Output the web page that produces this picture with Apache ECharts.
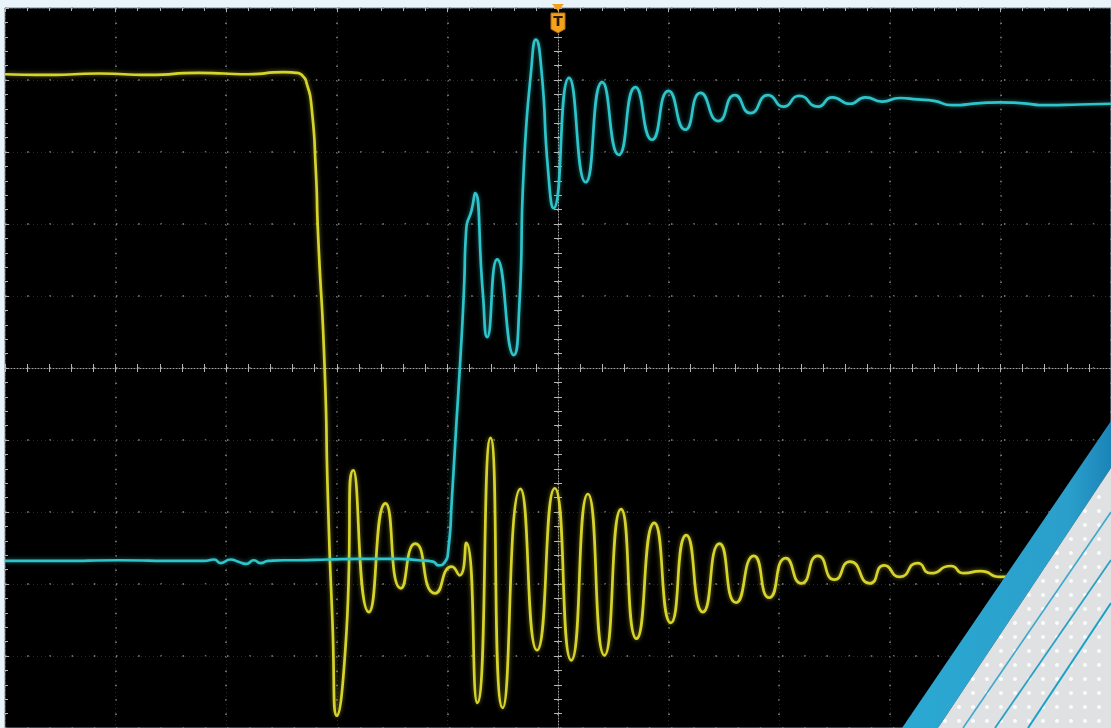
<!DOCTYPE html>
<html>
<head>
<meta charset="utf-8">
<title>scope capture</title>
<style>
  html, body { margin: 0; padding: 0; background: #e9f4fa; }
  #main { width: 1111px; height: 728px; }
</style>
</head>
<body>
<div id="main"></div>
<script src="https://cdn.jsdelivr.net/npm/echarts@6/dist/echarts.min.js"></script>
<script>
// time and level both in screen divisions (10 x 10 grid, trigger at t = 0)
var ch1Time = [-5.00, -4.60, -4.15, -3.70, -3.25, -2.80, -2.48, -2.37, -2.31, -2.27, -2.23, -2.19, -2.17, -2.11, -2.08, -2.04, -2.00, -1.92, -1.85, -1.71, -1.56, -1.42, -1.29, -1.11, -0.96, -0.89, -0.83, -0.73, -0.61, -0.50, -0.34, -0.19, -0.03, 0.12, 0.27, 0.42, 0.57, 0.71, 0.87, 1.02, 1.16, 1.31, 1.46, 1.61, 1.77, 1.91, 2.06, 2.20, 2.35, 2.50, 2.64, 2.82, 2.95, 3.09, 3.25, 3.37, 3.55, 3.67, 3.82, 4.00, 4.20];
var ch1Level = [4.08, 4.07, 4.09, 4.07, 4.10, 4.08, 4.11, 4.10, 4.06, 3.94, 3.65, 2.75, 1.88, 0.00, -1.83, -3.50, -4.83, -3.85, -1.42, -3.39, -1.88, -3.06, -2.44, -3.13, -2.76, -2.88, -2.43, -4.65, -0.97, -4.72, -1.68, -3.92, -1.67, -4.06, -1.75, -3.99, -1.96, -3.76, -2.15, -3.54, -2.32, -3.39, -2.44, -3.26, -2.61, -3.19, -2.64, -2.99, -2.61, -2.94, -2.69, -2.99, -2.74, -2.90, -2.71, -2.85, -2.75, -2.85, -2.82, -2.90, -2.86];

var ch2Time = [-5.00, -4.51, -3.97, -3.43, -3.20, -3.11, -3.05, -2.96, -2.89, -2.82, -2.75, -2.69, -2.62, -2.48, -2.35, -2.08, -1.81, -1.44, -1.26, -1.13, -1.08, -1.03, -0.99, -0.96, -0.92, -0.88, -0.85, -0.83, -0.78, -0.75, -0.68, -0.64, -0.55, -0.40, -0.35, -0.31, -0.24, -0.20, -0.15, -0.09, -0.04, 0.10, 0.25, 0.40, 0.55, 0.70, 0.85, 1.00, 1.15, 1.29, 1.45, 1.60, 1.74, 1.90, 2.04, 2.18, 2.35, 2.48, 2.64, 2.78, 2.93, 3.09, 3.25, 3.40, 3.56, 3.82, 4.00, 4.18, 4.42, 4.72, 5.00];
var ch2Level = [-2.68, -2.68, -2.67, -2.68, -2.68, -2.66, -2.71, -2.66, -2.69, -2.72, -2.67, -2.71, -2.68, -2.67, -2.67, -2.66, -2.65, -2.65, -2.67, -2.69, -2.74, -2.71, -2.50, -1.83, -0.80, 0.20, 1.10, 1.92, 2.20, 2.43, 1.05, 0.43, 1.51, 0.18, 0.85, 2.75, 4.18, 4.56, 4.14, 2.75, 2.22, 4.03, 2.58, 3.97, 2.96, 3.90, 3.17, 3.85, 3.31, 3.82, 3.43, 3.79, 3.54, 3.79, 3.63, 3.78, 3.63, 3.76, 3.67, 3.76, 3.70, 3.75, 3.73, 3.71, 3.65, 3.68, 3.69, 3.68, 3.65, 3.66, 3.67];

var divRange = [-5, 5];

(function scope() {
  var myChart = echarts.init(document.getElementById('main'));

  function pairs(t, v) {
    return t.map(function (x, i) { return [x, v[i]]; });
  }

  // little white dots for the corner panel
  var dot = document.createElement('canvas');
  dot.width = 14;
  dot.height = 14;
  var ctx = dot.getContext('2d');
  ctx.fillStyle = '#dfe1e3';
  ctx.fillRect(0, 0, 14, 14);
  ctx.fillStyle = 'rgba(255,255,255,0.85)';
  ctx.beginPath();
  ctx.arc(7, 7, 2, 0, Math.PI * 2);
  ctx.fill();

  var tickColor = '#b4b4b4';
  function axis(pos, onZero, opts) {
    var a = {
      type: 'value',
      min: divRange[0],
      max: divRange[1],
      interval: 1,
      position: pos,
      axisLabel: { show: false },
      axisLine: { show: false, onZero: onZero },
      axisTick: { show: true, length: 4, lineStyle: { color: tickColor } },
      minorTick: { show: true, splitNumber: 5, length: 4, lineStyle: { color: tickColor } },
      splitLine: { show: false }
    };
    return Object.assign(a, opts || {});
  }

  var option = {
    backgroundColor: '#e9f4fa',
    animation: false,
    grid: {
      left: 5,
      top: 8,
      width: 1110,
      height: 720,
      show: true,
      backgroundColor: '#000',
      borderColor: '#7c8fa0',
      borderWidth: 1
    },
    xAxis: [
      // centre line, ticks downward, dotted major verticals
      axis('bottom', true, {
        axisLine: { show: true, onZero: true, lineStyle: { color: '#a0a0a0', type: [1, 2] } },
        splitLine: { show: true, lineStyle: { color: '#8c8c8c', width: 1.5, type: [1.5, 12.9] } }
      }),
      // centre line, ticks upward, faint texture of the verticals
      axis('top', true, {
        splitLine: { show: true, lineStyle: { color: '#262626', width: 1, type: [1, 3] } }
      }),
      // top edge ticks
      axis('top', false, {
        axisTick: { show: true, inside: true, length: 4, lineStyle: { color: tickColor } },
        minorTick: { show: true, splitNumber: 5, length: 3, lineStyle: { color: tickColor } }
      })
    ],
    yAxis: [
      axis('left', true, {
        axisLine: { show: true, onZero: true, lineStyle: { color: '#a0a0a0', type: [1, 2] } },
        splitLine: { show: true, lineStyle: { color: '#8c8c8c', width: 1.5, type: [1.5, 20.7] } }
      }),
      axis('right', true, {
        splitLine: { show: true, lineStyle: { color: '#262626', width: 1, type: [1, 3] } }
      }),
      axis('left', false, {
        axisTick: { show: true, inside: true, length: 4, lineStyle: { color: tickColor } },
        minorTick: { show: true, splitNumber: 5, length: 3, lineStyle: { color: tickColor } }
      })
    ],
    series: [{
      name: 'CH1',
      type: 'line',
      xAxisIndex: 0,
      yAxisIndex: 0,
      data: pairs(ch1Time, ch1Level),
      smooth: 0.65,
      showSymbol: false,
      clip: true,
      lineStyle: { color: '#d6d42c', width: 2.7, shadowColor: 'rgba(214,212,44,0.55)', shadowBlur: 4 },
      z: 5
    }, {
      name: 'CH2',
      type: 'line',
      xAxisIndex: 0,
      yAxisIndex: 0,
      data: pairs(ch2Time, ch2Level),
      smooth: 0.6,
      showSymbol: false,
      clip: true,
      lineStyle: { color: '#2fc4c9', width: 2.7, shadowColor: 'rgba(47,196,201,0.55)', shadowBlur: 4 },
      z: 6
    }]
  };
  myChart.setOption(option);

  // trigger marker sits on t = 0 at the top edge
  var tx = myChart.convertToPixel({ xAxisIndex: 0 }, 0);
  var orange = '#f2a21c';
  myChart.setOption({
    graphic: [
      { type: 'polygon', z: 50, shape: { points: [[tx - 6, 4], [tx + 6, 4], [tx, 11]] }, style: { fill: orange } },
      { type: 'polygon', z: 50, shape: { points: [[tx - 7, 13], [tx + 7, 13], [tx + 7, 29], [tx, 33], [tx - 7, 29]] }, style: { fill: orange, stroke: '#b86e0a', lineWidth: 1 } },
      { type: 'text', z: 51, x: tx, y: 22, style: { text: 'T', fill: '#2a1800', font: 'bold 14px "DejaVu Sans"', align: 'center', verticalAlign: 'middle' } },
      // slide decoration in the lower right corner
      { type: 'polygon', z: 60, shape: { points: [[902, 728], [1111, 421], [1111, 468], [938, 728]] },
        style: { fill: new echarts.graphic.LinearGradient(0, 0, 1, 0, [{ offset: 0, color: '#2aa9d3' }, { offset: 0.8, color: '#2a9fcb' }, { offset: 1, color: '#1b84b8' }]) } },
      { type: 'polygon', z: 61, shape: { points: [[938, 728], [1111, 468], [1111, 728]] },
        style: { fill: { image: dot, repeat: 'repeat' } } },
      { type: 'polyline', z: 62, shape: { points: [[963, 728], [1111, 512]] }, style: { stroke: '#3fa8cc', lineWidth: 1.6 } },
      { type: 'polyline', z: 62, shape: { points: [[995, 728], [1111, 560]] }, style: { stroke: '#2a9fc6', lineWidth: 1.8 } },
      { type: 'polyline', z: 62, shape: { points: [[1028, 728], [1111, 603]] }, style: { stroke: '#19a0c8', lineWidth: 2 } }
    ]
  });

  window.addEventListener('resize', function () {
    myChart.resize();
  });
})();
</script>
</body>
</html>
